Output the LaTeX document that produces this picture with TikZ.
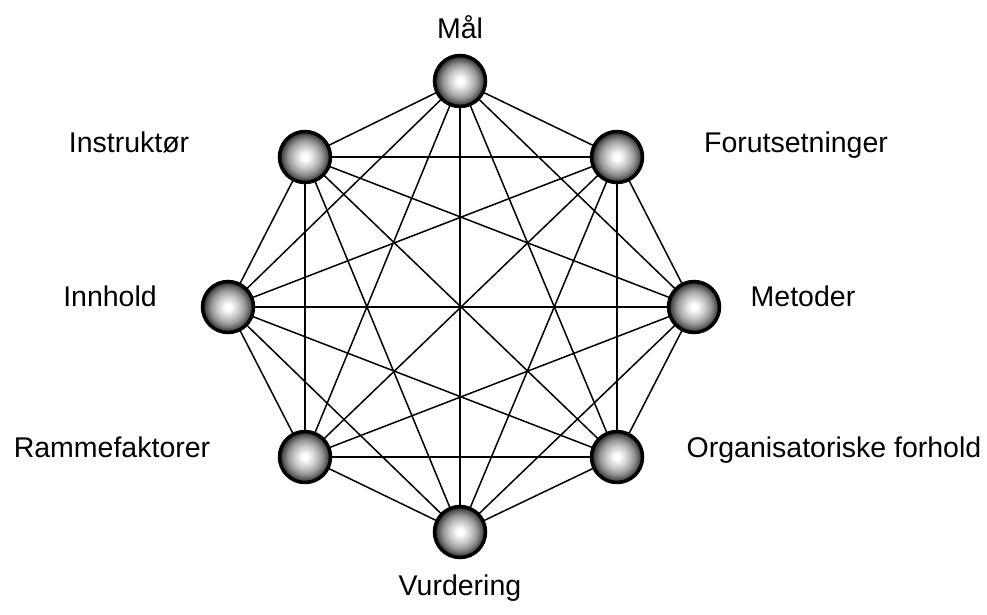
\documentclass[tikz,border=0pt]{standalone}
\usepackage{fontspec}
\setmainfont{Liberation Sans}
% soft grey ball: white core, darkening towards the rim (rim at 25bp)
\pgfdeclareradialshading{hubball}{\pgfpoint{0bp}{0bp}}{%
  color(0bp)=(white); color(3bp)=(white); color(11bp)=(black!22);
  color(17bp)=(black!42); color(22bp)=(black!68); color(25bp)=(black!90);
  color(50bp)=(black!90)}
\begin{document}
\begin{tikzpicture}[x=1pt,y=-1pt,
  hub/.style={circle, minimum size=51pt, inner sep=0pt, line width=3.5pt, draw=black,
    shading=hubball},
  link/.style={line width=1.5pt, black},
  lbl/.style={anchor=base, inner sep=0pt, font=\fontsize{28.5}{30}\selectfont}]
  \useasboundingbox (0,0) rectangle (987,614);
  % the eight hubs of the octagon
  \coordinate (c1) at (460,81);
  \coordinate (c2) at (617,157);
  \coordinate (c3) at (694,307);
  \coordinate (c4) at (617,457);
  \coordinate (c5) at (460,532);
  \coordinate (c6) at (305,457);
  \coordinate (c7) at (228,307);
  \coordinate (c8) at (305,157);
  % every hub is linked to every other one
  \foreach \i in {1,...,8}{
    \foreach \j in {1,...,8}{
      \ifnum\i<\j \draw[link] (c\i) -- (c\j); \fi
    }
  }
  \foreach \i in {1,...,8}{ \node[hub] (n\i) at (c\i) {}; }
  % labels
  \node[lbl] (t1) at (460,38) {Mål};
  \node[lbl] (t2) at (796,152) {Forutsetninger};
  \node[lbl] (t3) at (803,306) {Metoder};
  \node[lbl] (t4) at (834,457) {Organisatoriske forhold};
  \node[lbl] (t5) at (460,595) {Vurdering};
  \node[lbl] (t6) at (112,457) {Rammefaktorer};
  \node[lbl] (t7) at (110,306) {Innhold};
  \node[lbl] (t8) at (129,152) {Instruktør};
\end{tikzpicture}
\end{document}
